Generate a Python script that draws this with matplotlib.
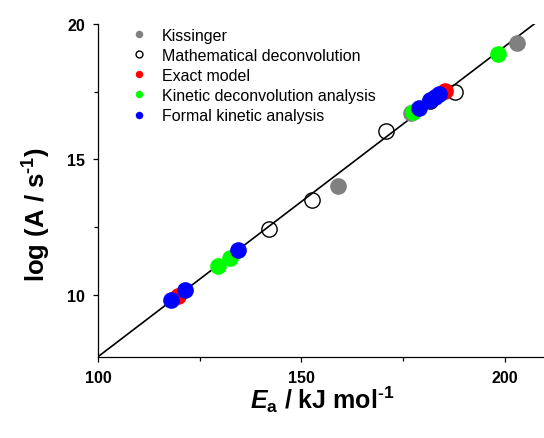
import matplotlib
matplotlib.use("Agg")
import matplotlib.pyplot as plt
from matplotlib.ticker import MultipleLocator

plt.rcParams["font.family"] = ["Liberation Sans", "DejaVu Sans"]
plt.rcParams["mathtext.fontset"] = "custom"
plt.rcParams["mathtext.rm"] = "Liberation Sans:bold"
plt.rcParams["mathtext.bf"] = "Liberation Sans:bold"
plt.rcParams["mathtext.it"] = "Liberation Sans:bold:italic"

# activation energy (kJ/mol) and log A values
kissinger_ea = [158.9, 176.8, 202.9]
kissinger_loga = [14.01, 16.70, 19.30]

math_deconv_ea = [142.1, 152.6, 170.8, 181.6, 187.7]
math_deconv_loga = [12.41, 13.49, 16.03, 17.17, 17.50]

exact_ea = [119.7, 185.3]
exact_loga = [9.97, 17.54]

kin_deconv_ea = [129.5, 132.4, 177.5, 198.4]
kin_deconv_loga = [11.06, 11.35, 16.76, 18.89]

formal_ea = [118.0, 121.5, 134.5, 179.0, 181.6, 182.8, 183.9]
formal_loga = [9.82, 10.17, 11.65, 16.89, 17.18, 17.30, 17.40]

# compensation line end points
line_ea = [100.0, 207.2]
line_loga = [7.71, 20.0]

fig = plt.figure(figsize=(5.44, 4.39), dpi=100)
ax = fig.add_axes([98 / 544, 1 - 358 / 439, 447.6 / 544, 333 / 439])

ax.plot(line_ea, line_loga, color="black", lw=1.2, zorder=1)

ms = 12
ax.plot(kissinger_ea, kissinger_loga, "o", ls="none", ms=ms, mew=0,
        color="#808080", label="Kissinger", zorder=2)
ax.plot(math_deconv_ea, math_deconv_loga, "o", ls="none", ms=11, mew=1.0,
        mfc="none", mec="black", label="Mathematical deconvolution", zorder=2)
ax.plot(exact_ea, exact_loga, "o", ls="none", ms=ms, mew=0,
        color="#ff0000", label="Exact model", zorder=3)
ax.plot(kin_deconv_ea, kin_deconv_loga, "o", ls="none", ms=ms, mew=0,
        color="#00ff00", label="Kinetic deconvolution analysis", zorder=4)
ax.plot(formal_ea, formal_loga, "o", ls="none", ms=ms, mew=0,
        color="#0000ff", label="Formal kinetic analysis", zorder=5)

ax.set_xlim(100, 210)
ax.set_ylim(7.7, 20)
ax.xaxis.set_major_locator(MultipleLocator(50))
ax.xaxis.set_minor_locator(MultipleLocator(25))
ax.yaxis.set_major_locator(MultipleLocator(5))
ax.yaxis.set_minor_locator(MultipleLocator(2.5))

for s in ["top", "right"]:
    ax.spines[s].set_visible(False)
for s in ["left", "bottom"]:
    ax.spines[s].set_linewidth(0.9)

ax.tick_params(which="both", direction="out", width=0.9)
ax.tick_params(which="major", length=3.5, pad=6, labelsize=11.5)
ax.tick_params(which="minor", length=3)
for lbl in ax.get_xticklabels() + ax.get_yticklabels():
    lbl.set_fontweight("bold")

ax.set_xlabel(r"$\mathit{E}_\mathrm{a}$ / kJ mol$^{\text{-1}}$", fontsize=18,
              fontweight="bold", labelpad=-1)
ax.set_ylabel(r"log (A / s$^{\text{-1}}$)", fontsize=18.5, fontweight="bold")
ax.yaxis.set_label_coords(-0.100, 0.432)

ax.legend(loc="upper left", bbox_to_anchor=(0.042, 1.008), borderaxespad=0,
          frameon=False, fontsize=11.5, markerscale=0.45, handletextpad=0.42,
          labelspacing=0.32, handlelength=2.0)

fig.savefig("out.png", dpi=100)
